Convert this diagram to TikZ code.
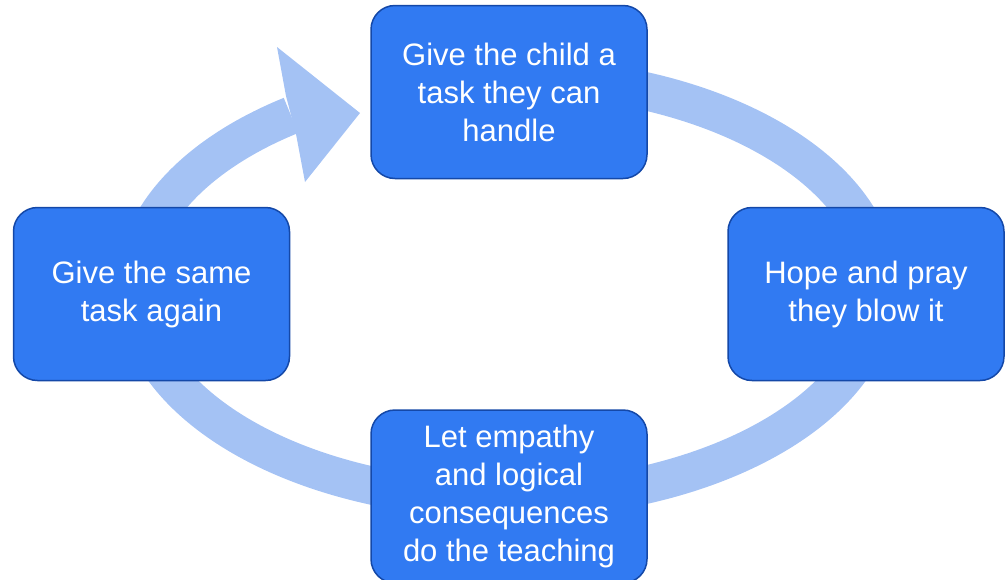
\documentclass[tikz,border=0pt]{standalone}
\usepackage{fontspec}
\setmainfont{Liberation Sans}
\usetikzlibrary{positioning}
\definecolor{taskblue}{HTML}{317AF2}
\definecolor{taskedge}{HTML}{1448A8}
\definecolor{ringblue}{HTML}{A4C2F4}

\begin{document}
\begin{tikzpicture}[
    x=1pt, y=1pt,
    stepbox/.style={draw=taskedge, line width=1.5pt, fill=taskblue, rounded corners=24pt, text=white, align=center, minimum width=276pt, minimum height=173pt, font=\fontsize{31}{38}\selectfont},
    ring/.style={draw=ringblue, line width=38pt},
    ringhead/.style={fill=ringblue}
]
\clip (0,0) rectangle (1006,-579);

% Ring
\coordinate (hub) at (507,-288);
\draw[ring] (hub) ++(80:372 and 212) arc[start angle=80, end angle=-234.5, x radius=372, y radius=212];
\fill[ringhead] (286,-96) -- (277,-47) -- (360,-113) -- (305,-182) -- (296,-134) -- cycle;

% Nodes
\node[stepbox] (give) at (509,-92) {Give the child a\\task they can\\handle};
\node[stepbox] (hope) at (866,-294) {Hope and pray\\they blow it};
\node[stepbox, below=230pt of give] (let) {Let empathy\\and logical\\consequences\\do the teaching};
\node[stepbox] (again) at (151.5,-294) {Give the same\\task again};

\end{tikzpicture}
\end{document}
